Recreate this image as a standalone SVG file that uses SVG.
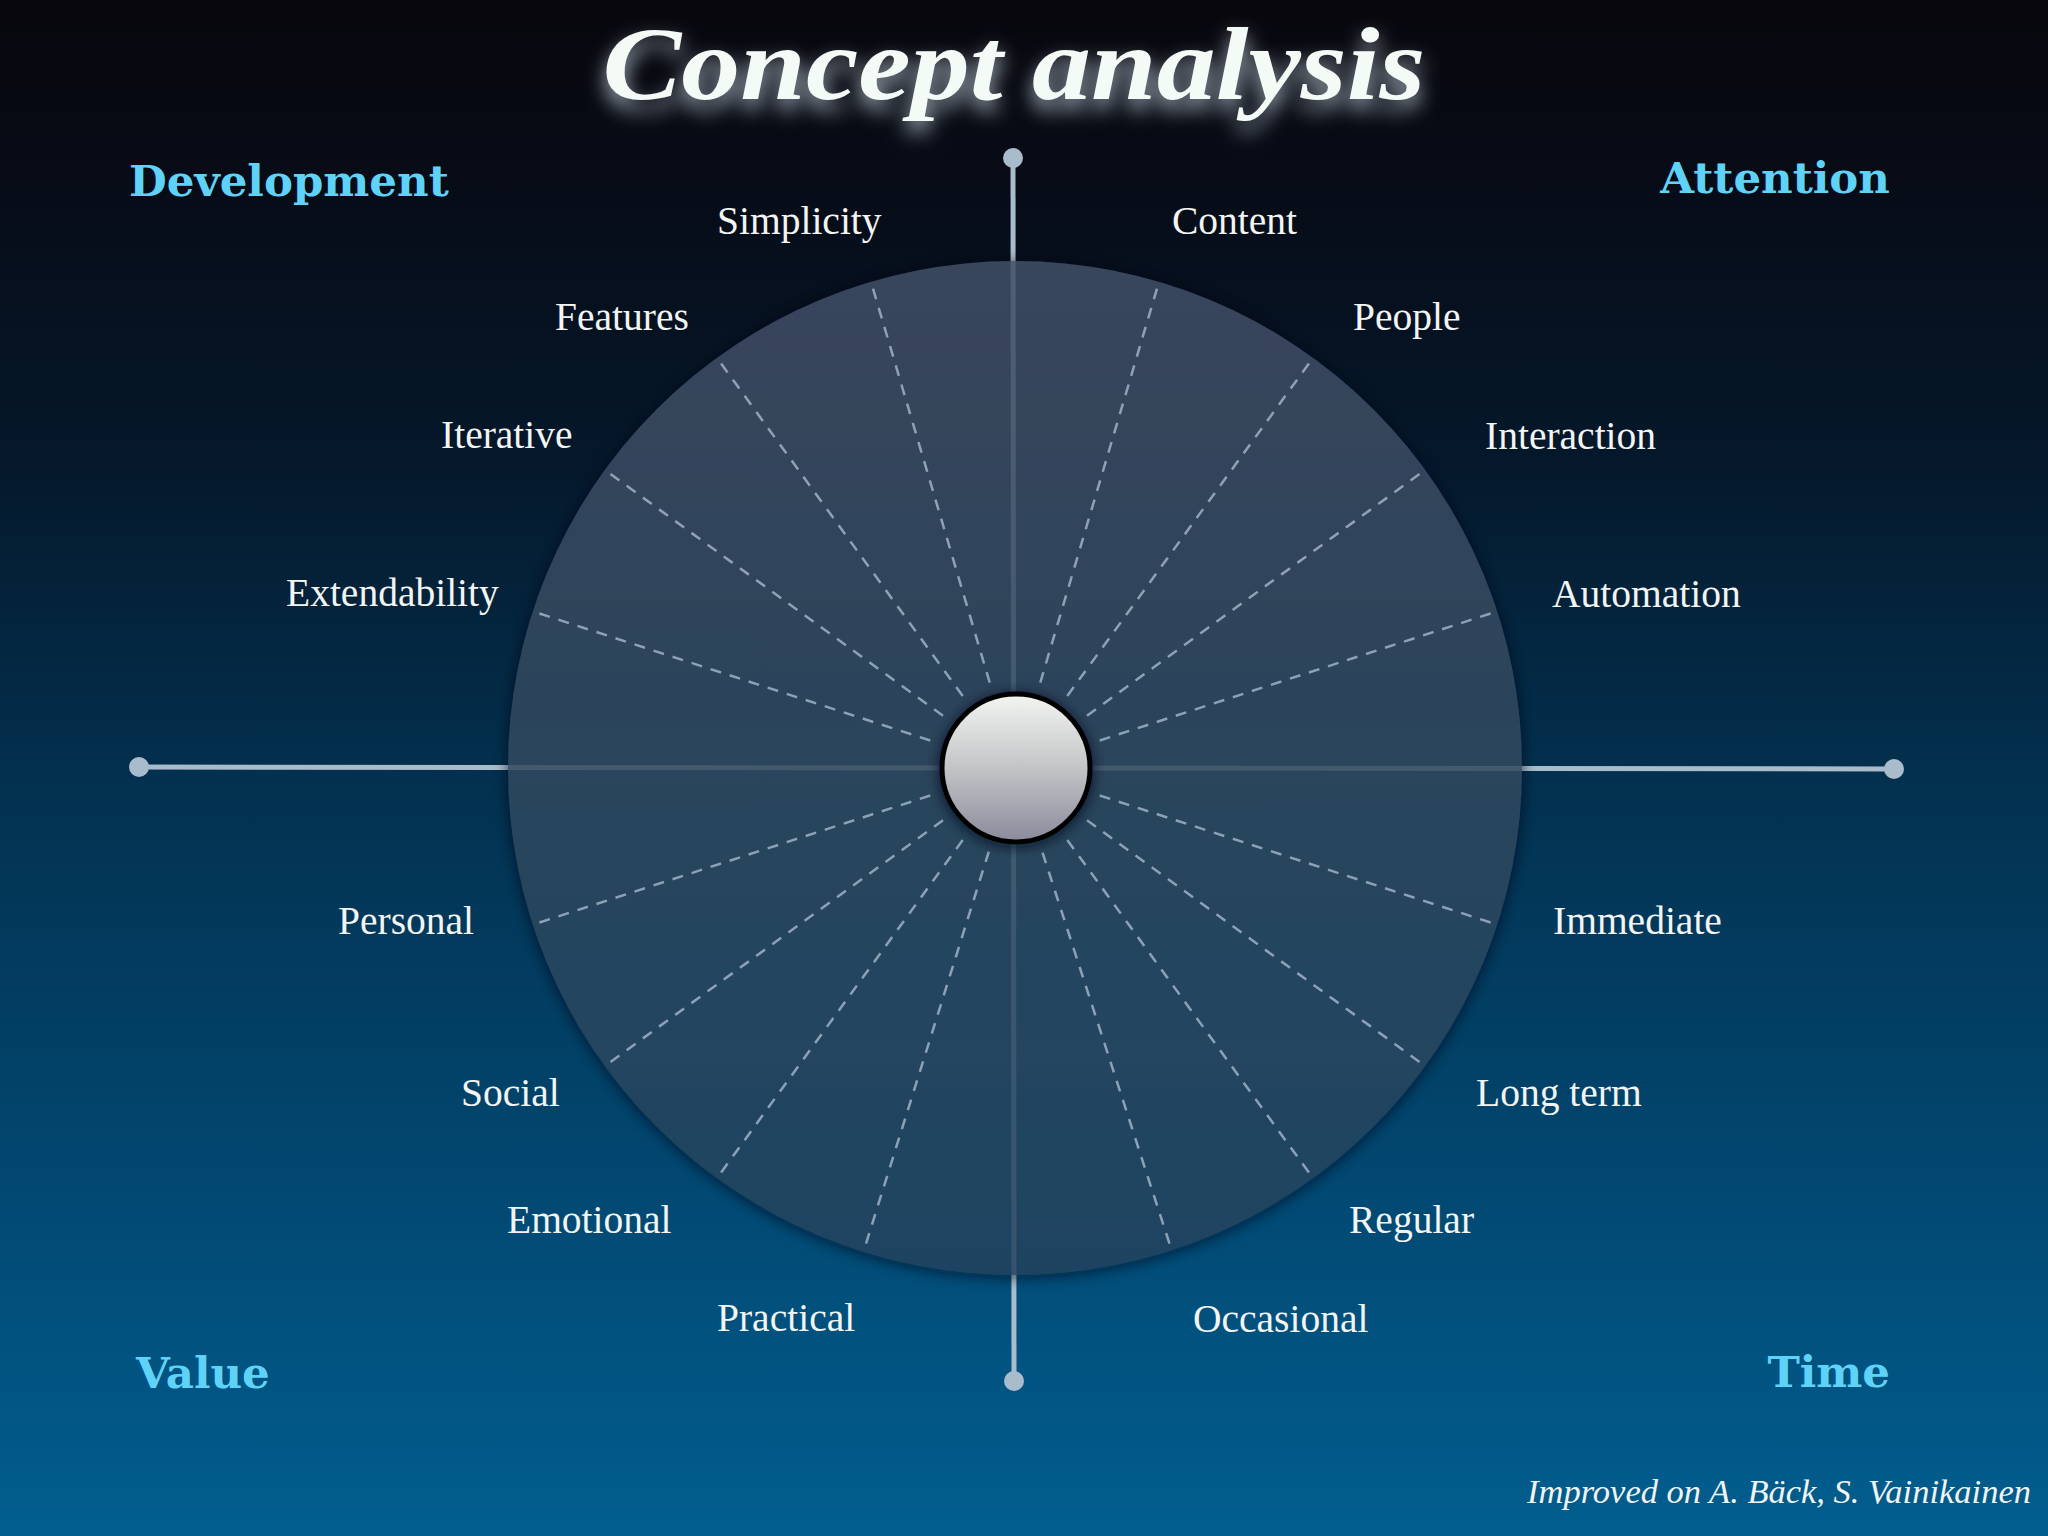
<svg xmlns="http://www.w3.org/2000/svg" width="2048" height="1536" viewBox="0 0 2048 1536">
  <defs>
    <linearGradient id="bg" x1="0" y1="0" x2="0" y2="1">
      <stop offset="0" stop-color="#08070d"/>
      <stop offset="0.12" stop-color="#070c17"/>
      <stop offset="0.3" stop-color="#05182b"/>
      <stop offset="0.5" stop-color="#03304e"/>
      <stop offset="0.75" stop-color="#02466f"/>
      <stop offset="1" stop-color="#015e8f"/>
    </linearGradient>
    <linearGradient id="disc" x1="0" y1="0" x2="0" y2="1">
      <stop offset="0" stop-color="#424f66"/>
      <stop offset="0.5" stop-color="#30495f"/>
      <stop offset="1" stop-color="#24435e"/>
    </linearGradient>
    <linearGradient id="ball" x1="0" y1="0" x2="0" y2="1">
      <stop offset="0" stop-color="#f3f5f2"/>
      <stop offset="0.5" stop-color="#c3c4c6"/>
      <stop offset="1" stop-color="#8a8a9c"/>
    </linearGradient>
    <filter id="shadow" x="-10%" y="-10%" width="120%" height="120%">
      <feDropShadow dx="0" dy="2" stdDeviation="7" flood-color="#000814" flood-opacity="0.8"/>
    </filter>
    <filter id="glow" x="-10%" y="-60%" width="120%" height="240%">
      <feGaussianBlur in="SourceAlpha" stdDeviation="10" result="b"/>
      <feOffset in="b" dy="10" result="o"/>
      <feFlood flood-color="#c2d0dc" flood-opacity="0.85"/>
      <feComposite in2="o" operator="in" result="g"/>
      <feMerge><feMergeNode in="g"/><feMergeNode in="SourceGraphic"/></feMerge>
    </filter>
    <style>
      .lbl { font-family: "Liberation Serif", "Times New Roman", serif; font-size: 39.5px; fill: #f3f5f3; }
      .quad { font-family: "DejaVu Serif", serif; font-weight: bold; font-size: 43.5px; fill: #5fd3f7; }
      .axis { stroke: #a9bccb; stroke-width: 5; fill: none; }
      .dot { fill: #a9bccb; }
      .dash { stroke: #9fb1c6; stroke-width: 2.5; stroke-dasharray: 11 9; fill: none; opacity: 0.85; }
    </style>
  </defs>

  <rect x="0" y="0" width="2048" height="1536" fill="url(#bg)"/>

  <g id="title">
    <text x="1014" y="99" text-anchor="middle" font-family="Liberation Serif, Times New Roman, serif" font-weight="bold" font-style="italic" font-size="104" fill="#f4fbf6" textLength="823" lengthAdjust="spacingAndGlyphs" filter="url(#glow)">Concept analysis</text>
  </g>

  <g id="connectors">
    <line class="axis" x1="1013" y1="158" x2="1014" y2="1381"/>
    <line class="axis" x1="139" y1="767" x2="1894" y2="769"/>
    <circle class="dot" cx="1013" cy="158" r="10"/>
    <circle class="dot" cx="1014" cy="1381" r="10"/>
    <circle class="dot" cx="139" cy="767" r="10"/>
    <circle class="dot" cx="1894" cy="769" r="10"/>
  </g>

  <g id="disc">
    <circle cx="1015" cy="768" r="507" fill="url(#disc)" opacity="0.86" filter="url(#shadow)"/>
  </g>

  <g id="spokes">
    <line class="dash" x1="873" y1="288.6" x2="990" y2="683.6"/>
    <line class="dash" x1="721.1" y1="363.5" x2="963.3" y2="696.8"/>
    <line class="dash" x1="610.5" y1="474.1" x2="943.8" y2="716.3"/>
    <line class="dash" x1="539.4" y1="613.5" x2="931.3" y2="740.8"/>
    <line class="dash" x1="1157" y1="288.6" x2="1040" y2="683.6"/>
    <line class="dash" x1="1308.9" y1="363.5" x2="1066.7" y2="696.8"/>
    <line class="dash" x1="1419.5" y1="474.1" x2="1086.2" y2="716.3"/>
    <line class="dash" x1="1490.6" y1="613.5" x2="1098.7" y2="740.8"/>
    <line class="dash" x1="1169.5" y1="1243.6" x2="1042.2" y2="851.7"/>
    <line class="dash" x1="1308.9" y1="1172.5" x2="1066.7" y2="839.2"/>
    <line class="dash" x1="1419.5" y1="1061.9" x2="1086.2" y2="819.7"/>
    <line class="dash" x1="1490.6" y1="922.5" x2="1098.7" y2="795.2"/>
    <line class="dash" x1="866" y1="1243.6" x2="988.8" y2="851.7"/>
    <line class="dash" x1="721.1" y1="1172.5" x2="963.3" y2="839.2"/>
    <line class="dash" x1="610.5" y1="1061.9" x2="943.8" y2="819.7"/>
    <line class="dash" x1="539.4" y1="922.5" x2="931.3" y2="795.2"/>
  </g>

  <g id="center">
    <circle cx="1016" cy="768" r="74" fill="url(#ball)" stroke="#050505" stroke-width="5" filter="url(#shadow)"/>
  </g>

  <g id="quadrants">
    <text id="q-development" class="quad" x="129" y="196">Development</text>
    <text id="q-attention" class="quad" x="1890" y="193" text-anchor="end">Attention</text>
    <text id="q-value" class="quad" x="136" y="1388">Value</text>
    <text id="q-time" class="quad" x="1890" y="1387" text-anchor="end">Time</text>
  </g>

  <g id="labels">
    <g id="n-simplicity"><text class="lbl" x="717" y="234">Simplicity</text></g>
    <g id="n-features"><text class="lbl" x="555" y="330">Features</text></g>
    <g id="n-iterative"><text class="lbl" x="441" y="448">Iterative</text></g>
    <g id="n-extendability"><text class="lbl" x="286" y="606">Extendability</text></g>
    <g id="n-content"><text class="lbl" x="1172" y="234">Content</text></g>
    <g id="n-people"><text class="lbl" x="1353" y="330">People</text></g>
    <g id="n-interaction"><text class="lbl" x="1485" y="449">Interaction</text></g>
    <g id="n-automation"><text class="lbl" x="1552" y="607">Automation</text></g>
    <g id="n-personal"><text class="lbl" x="338" y="934">Personal</text></g>
    <g id="n-social"><text class="lbl" x="461" y="1106">Social</text></g>
    <g id="n-emotional"><text class="lbl" x="507" y="1233">Emotional</text></g>
    <g id="n-practical"><text class="lbl" x="717" y="1331">Practical</text></g>
    <g id="n-immediate"><text class="lbl" x="1553" y="934">Immediate</text></g>
    <g id="n-longterm"><text class="lbl" x="1476" y="1106">Long term</text></g>
    <g id="n-regular"><text class="lbl" x="1349" y="1233">Regular</text></g>
    <g id="n-occasional"><text class="lbl" x="1193" y="1332">Occasional</text></g>
  </g>

  <g id="credit">
    <text x="2031" y="1503" text-anchor="end" font-family="Liberation Serif, Times New Roman, serif" font-style="italic" font-size="34.5" fill="#f2f4f2">Improved on A. Bäck, S. Vainikainen</text>
  </g>
</svg>
